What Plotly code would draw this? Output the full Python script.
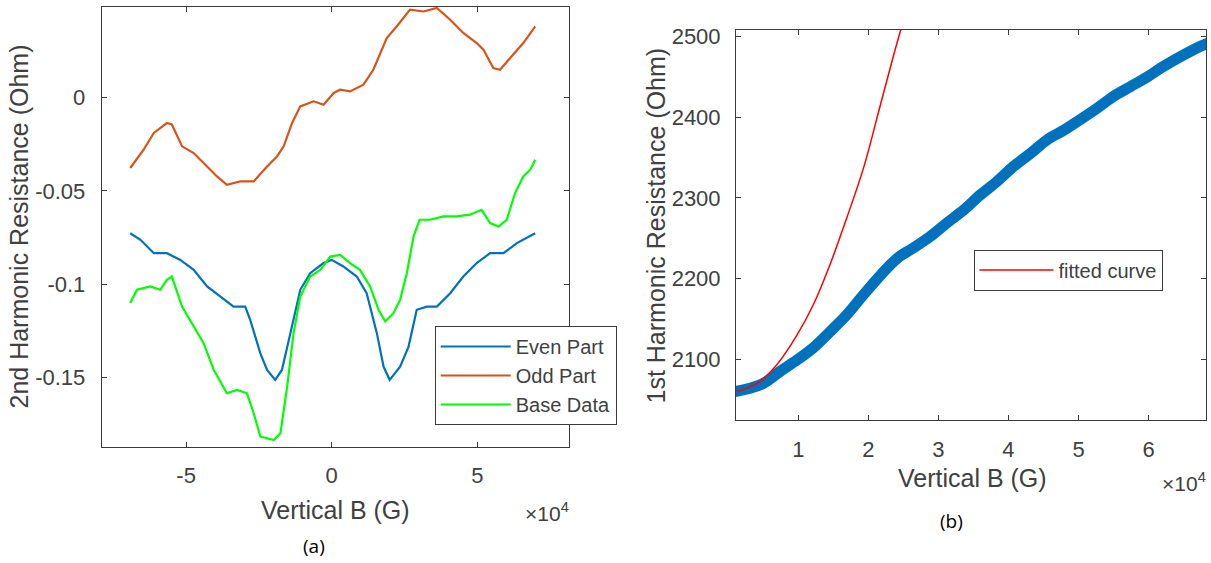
import plotly.graph_objects as go

# ---------------- Panel (a): 2nd harmonic resistance ----------------
odd_x = [-6.92, -6.46, -6.11, -5.66, -5.49, -5.14, -4.74, -4.28, -3.94, -3.6, -3.14, -2.68, -2.57,
         -2.22, -1.88, -1.65, -1.36, -1.08, -0.62, -0.28, 0.07, 0.29, 0.63, 1.09, 1.43, 1.89, 2.23,
         2.69, 3.15, 3.61, 4.07, 4.52, 4.98, 5.21, 5.55, 5.78, 6.13, 6.58, 6.99]
odd_y = [-0.0378, -0.028, -0.019, -0.0137, -0.0145, -0.0262, -0.0298, -0.037, -0.0423, -0.0468,
         -0.045, -0.045, -0.043, -0.037, -0.0316, -0.0262, -0.0137, -0.0048, -0.0021, -0.0039,
         0.0024, 0.0041, 0.0032, 0.0068, 0.0148, 0.0318, 0.038, 0.047, 0.046, 0.0479, 0.0416,
         0.0345, 0.0291, 0.0256, 0.0157, 0.0148, 0.0211, 0.0291, 0.038]

even_x = [-6.92, -6.57, -6.11, -5.66, -5.2, -4.74, -4.28, -3.82, -3.37, -2.97, -2.8, -2.45, -2.22,
          -1.94, -1.71, -1.42, -1.08, -0.74, -0.28, 0.0, 0.4, 0.86, 1.2, 1.55, 1.78, 1.99, 2.35,
          2.64, 2.92, 3.27, 3.61, 4.07, 4.52, 4.98, 5.44, 5.9, 6.36, 6.99]
even_y = [-0.0727, -0.0762, -0.0834, -0.0834, -0.087, -0.0923, -0.1012, -0.1066, -0.112, -0.112,
          -0.1191, -0.137, -0.1459, -0.1512, -0.1459, -0.1262, -0.103, -0.0941, -0.0887, -0.087,
          -0.0905, -0.0959, -0.1048, -0.1262, -0.1441, -0.1512, -0.1441, -0.1334, -0.1137, -0.112,
          -0.112, -0.1048, -0.0959, -0.0887, -0.0834, -0.0834, -0.078, -0.0727]

base_x = [-6.92, -6.69, -6.23, -5.89, -5.66, -5.49, -5.14, -4.74, -4.4, -4.05, -3.6, -3.25, -2.91,
          -2.68, -2.45, -1.99, -1.76, -1.53, -1.31, -1.08, -0.74, -0.39, -0.05, 0.29, 0.63, 0.97,
          1.32, 1.61, 1.84, 2.12, 2.35, 2.58, 2.81, 3.02, 3.38, 3.84, 4.3, 4.75, 5.15, 5.44, 5.73,
          6.01, 6.3, 6.58, 6.82, 6.99]
base_y = [-0.1101, -0.103, -0.1012, -0.103, -0.0977, -0.0959, -0.112, -0.1227, -0.1316, -0.1459,
          -0.1584, -0.1566, -0.1584, -0.1691, -0.1816, -0.1834, -0.1798, -0.1548, -0.1262, -0.1066,
          -0.0959, -0.0923, -0.0852, -0.0843, -0.0887, -0.0923, -0.1012, -0.1137, -0.12, -0.1155,
          -0.1084, -0.0941, -0.0745, -0.0655, -0.0655, -0.0637, -0.0637, -0.0628, -0.0602, -0.0673,
          -0.0691, -0.0655, -0.0512, -0.0423, -0.0387, -0.0334]

a_xticks = [-5, 0, 5]
a_xticktext = ["-5", "0", "5"]
a_yticks = [-0.15, -0.1, -0.05, 0]
a_yticktext = ["-0.15", "-0.1", "-0.05", "0"]

# ---------------- Panel (b): 1st harmonic resistance ----------------
first_x = [0.095, 0.31, 0.5, 0.74, 0.98, 1.21, 1.45, 1.69, 1.93, 2.17, 2.41, 2.64, 2.88, 3.12, 3.36,
           3.6, 3.83, 4.07, 4.31, 4.55, 4.79, 5.02, 5.26, 5.5, 5.74, 5.98, 6.21, 6.45, 6.69, 6.85]
first_y = [2060, 2064, 2070, 2085, 2099, 2114, 2134, 2155, 2180, 2204, 2225, 2238, 2252, 2269, 2285,
           2304, 2320, 2339, 2355, 2372, 2384, 2397, 2411, 2426, 2438, 2450, 2463, 2475, 2486, 2492]

fit_x = [0.12, 0.41, 0.69, 0.98, 1.21, 1.45, 1.69, 1.93, 2.17, 2.36, 2.5]
fit_y = [2060, 2070, 2093, 2130, 2167, 2217, 2275, 2337, 2415, 2477, 2520]

b_xticks = [1, 2, 3, 4, 5, 6]
b_yticks = [2100, 2200, 2300, 2400, 2500]

SCALE = 1e4  # x values are read in units of 10^4 G

FONT = "Liberation Sans, Arial, Helvetica, sans-serif"
CAPFONT = "Open Sans, Noto Sans, sans-serif"
TXT = "#404040"
AX = "#3a3a3a"
W, H = 1211, 563


def g(v):
    return [t * SCALE for t in v]


fig = go.Figure()
fig.add_trace(go.Scatter(x=g(even_x), y=even_y, mode="lines", name="Even Part",
                         line=dict(color="#0072BD", width=2.2), xaxis="x", yaxis="y", legend="legend"))
fig.add_trace(go.Scatter(x=g(odd_x), y=odd_y, mode="lines", name="Odd Part",
                         line=dict(color="#D95319", width=2.2), xaxis="x", yaxis="y", legend="legend"))
fig.add_trace(go.Scatter(x=g(base_x), y=base_y, mode="lines", name="Base Data",
                         line=dict(color="#00FF00", width=2.2), xaxis="x", yaxis="y", legend="legend"))

fig.add_trace(go.Scatter(x=g(first_x), y=first_y, mode="lines", name="data", showlegend=False,
                         line=dict(color="#0072BD", width=11, shape="spline"), xaxis="x2", yaxis="y2"))
fig.add_trace(go.Scatter(x=g(fit_x), y=fit_y, mode="lines", name="fitted curve",
                         line=dict(color="#FF0000", width=1.5, shape="spline"), xaxis="x2", yaxis="y2",
                         legend="legend2"))

ax_l = dict(x0=101.7, x1=569.0, y0=7.0, y1=446.7)
ax_r = dict(x0=736.0, x1=1206.0, y0=30.0, y1=420.0)


def dom_x(b):
    return [b["x0"] / W, b["x1"] / W]


def dom_y(b):
    return [1 - b["y1"] / H, 1 - b["y0"] / H]


common = dict(showline=True, linecolor=AX, linewidth=1, mirror="ticks", ticks="inside",
              ticklen=5, tickcolor=AX, showgrid=False, zeroline=False, automargin=False,
              tickfont=dict(family=FONT, size=22, color=TXT))

fig.update_layout(
    xaxis=dict(domain=dom_x(ax_l), anchor="y", range=[-7.9 * SCALE, 8.15 * SCALE],
               tickvals=g(a_xticks), ticktext=a_xticktext, ticklabelstandoff=9, **common),
    yaxis=dict(domain=dom_y(ax_l), anchor="x", range=[-0.187, 0.0484],
               tickvals=a_yticks, ticktext=a_yticktext, ticklabelstandoff=11, **common),
    xaxis2=dict(domain=dom_x(ax_r), anchor="y2", range=[0.11 * SCALE, 6.82 * SCALE],
                tickvals=g(b_xticks), ticktext=[str(t) for t in b_xticks], ticklabelstandoff=10,
                **common),
    yaxis2=dict(domain=dom_y(ax_r), anchor="x2", range=[2024.7, 2508.3],
                tickvals=b_yticks, ticktext=[str(t) for t in b_yticks], ticklabelstandoff=10, **common),
    width=W, height=H,
    margin=dict(l=0, r=0, t=0, b=0, autoexpand=False),
    paper_bgcolor="white", plot_bgcolor="white",
    font=dict(family=FONT, color=TXT),
    legend=dict(x=434.7 / W, y=1 - 326 / H, xanchor="left", yanchor="top",
                bgcolor="white", bordercolor=AX, borderwidth=1, itemwidth=70,
                font=dict(family=FONT, size=20, color=TXT), tracegroupgap=0),
    legend2=dict(x=973.5 / W, y=1 - 249.6 / H, xanchor="left", yanchor="top",
                 bgcolor="white", bordercolor=AX, borderwidth=1, itemwidth=74,
                 font=dict(family=FONT, size=20, color=TXT)),
    showlegend=True,
)

ann = []
# axis titles
ann.append(dict(text="2nd Harmonic Resistance (Ohm)", x=18.5 / W, y=1 - 227 / H, textangle=-90,
                font=dict(family=FONT, size=25, color=TXT)))
ann.append(dict(text="Vertical B (G)", x=336 / W, y=1 - 510 / H,
                font=dict(family=FONT, size=25, color=TXT)))
ann.append(dict(text="1st Harmonic Resistance (Ohm)", x=655.5 / W, y=1 - 225 / H, textangle=-90,
                font=dict(family=FONT, size=25, color=TXT)))
ann.append(dict(text="Vertical B (G)", x=972 / W, y=1 - 478 / H,
                font=dict(family=FONT, size=25, color=TXT)))
# exponent labels
ann.append(dict(text="×10<sup>4</sup>", x=571 / W, y=1 - 512 / H, xanchor="right",
                font=dict(family=FONT, size=21, color=TXT)))
ann.append(dict(text="×10<sup>4</sup>", x=1208 / W, y=1 - 482 / H, xanchor="right",
                font=dict(family=FONT, size=21, color=TXT)))
# captions
ann.append(dict(text="(a)", x=314 / W, y=1 - 546 / H,
                font=dict(family=CAPFONT, size=19, color="#000000")))
ann.append(dict(text="(b)", x=951.5 / W, y=1 - 521 / H,
                font=dict(family=CAPFONT, size=19, color="#000000")))

for a in ann:
    a.update(xref="paper", yref="paper", showarrow=False)
    a.setdefault("xanchor", "center")
    a.setdefault("yanchor", "middle")
fig.update_layout(annotations=ann)

# remove the browser's default 8px page margin so paper pixels match the window
fig.write_html("out.html", config={"displayModeBar": False},
               post_script="document.body.style.margin='0';document.body.style.overflow='hidden';")
